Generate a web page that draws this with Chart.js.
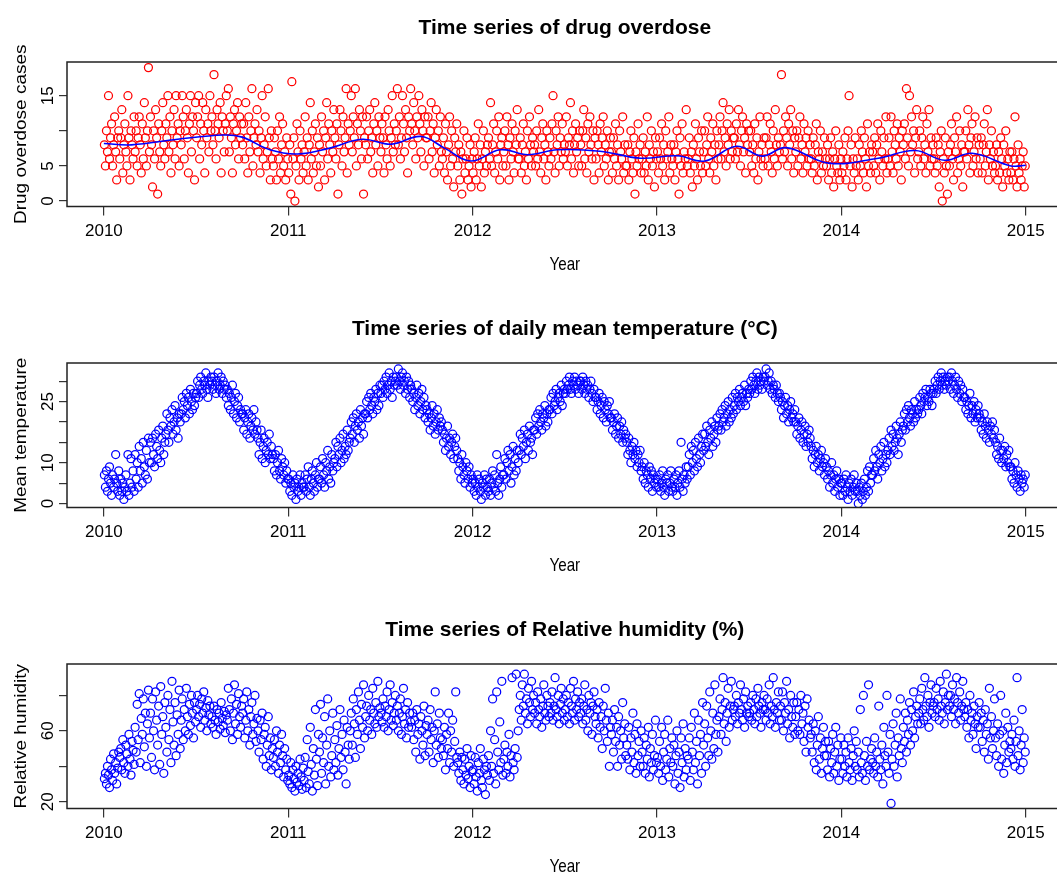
<!DOCTYPE html>
<html>
<head>
<meta charset="utf-8">
<script src="https://cdn.jsdelivr.net/npm/chart.js@4.4.1/dist/chart.umd.min.js"></script>
<style>
  html, body { margin: 0; padding: 0; background: #fff; }
  body { width: 1057px; height: 875px; overflow: hidden; position: relative; }
  canvas { position: absolute; left: 0; }
</style>
</head>
<body>
<canvas id="overdose" width="1057" height="301" style="top:0px"></canvas>
<canvas id="temperature" width="1057" height="301" style="top:301px"></canvas>
<canvas id="humidity" width="1057" height="301" style="top:602px"></canvas>
<script>
'use strict';

// one value every ~2 days
var years = [2010, 2011, 2012, 2013, 2014];
var yearTicks = [2010, 2011, 2012, 2013, 2014, 2015];

var overdose2010 = [8,5,10,7,15,6,9,11,5,8,12,7,3,9,10, 6,9,13,4,8,11,7,5,15,9,3,10,8,6,12,
  7,10,5,9,12,8,4,11,6,14,9,5,10,19,7, 12,8,2,10,6,13,9,1,11,7,5,10,14,8,6,
  11,9,15,7,12,4,10,8,13,6,15,9,11,5,10, 8,15,12,6,10,13,9,4,11,15,7,12,10,3,14,
  9,12,15,6,11,8,14,10,4,13,9,11,7,15,10, 12,8,18,10,6,13,11,9,14,4,12,10,7,11,15,
  10,16,7,12,9,4,11,13,8,10,14,6,12,9,11, 8,11,6,14,9,4,12,7,10,16,5,9,11,8,13,
  7,10,4,9,15,6,8,12,5,7,16,9,3,10,6, 5,9,7,3,10,6,12,4,8,11,5,7,3,9,6];
var overdose2011 = [4,8,1,17,6,9,0,5,11,7,3,10,6,8,4, 7,12,5,9,3,8,14,6,10,4,7,11,5,9,2,
  8,5,12,7,10,3,9,14,6,11,8,4,10,7,13, 9,6,11,1,8,13,10,5,12,7,9,16,4,11,8,
  10,15,7,12,9,16,5,11,8,13,10,6,12,1,9, 8,12,6,10,13,7,9,4,11,14,8,10,5,12,9,
  7,11,9,4,12,8,6,13,10,5,9,15,7,11,8, 10,16,8,12,6,9,15,11,7,13,9,4,12,10,16,
  11,8,14,10,6,12,9,15,11,7,13,10,5,12,9, 9,12,6,10,14,7,11,4,9,13,8,10,5,12,7,
  6,9,4,11,7,3,8,12,5,10,6,2,9,7,11, 5,8,3,7,1,6,10,4,6,9,3,5,8,2,6];
var overdose2012 = [4,7,9,3,6,11,5,8,2,6,10,4,7,5,8, 9,6,14,5,8,11,4,7,10,6,12,3,8,9,5,
  7,10,5,12,8,3,9,6,11,7,4,10,8,13,6, 6,9,4,8,11,5,7,3,10,6,12,8,5,9,7,
  8,5,10,6,13,7,4,9,11,6,8,3,10,7,5, 9,6,11,15,7,4,10,8,12,5,9,7,11,6,8,
  7,12,5,9,8,14,6,10,4,8,11,7,9,5,10, 8,5,10,13,6,9,4,11,7,12,8,6,10,3,9,
  6,10,8,4,11,7,9,12,5,8,6,10,3,7,9, 7,4,9,6,11,5,8,3,10,7,6,12,4,8,5,
  5,8,3,7,10,6,4,9,1,7,5,11,6,8,4, 6,9,4,7,5,12,3,8,6,10,5,7,2,9,6];
var overdose2013 = [7,4,9,6,11,5,8,3,10,6,7,12,4,8,6, 5,8,3,7,10,6,1,9,5,11,4,7,6,13,5,
  6,9,4,7,2,8,5,11,6,3,9,7,5,10,4, 7,10,5,8,12,6,4,9,7,11,5,8,3,10,6,
  8,12,6,10,14,7,9,5,11,8,13,6,10,7,9, 9,6,11,7,13,8,5,10,12,7,9,4,11,8,10,
  7,10,5,8,4,11,6,9,3,7,12,6,8,5,9, 6,9,12,5,8,11,7,4,10,6,13,8,5,9,7,
  8,18,6,10,7,12,9,5,11,8,13,6,10,4,9, 7,10,5,9,12,6,8,4,11,7,9,5,10,6,8,
  6,4,9,5,8,11,3,7,6,10,4,7,5,9,6, 5,8,3,6,9,4,7,2,6,10,5,4,8,3,6];
var overdose2014 = [4,7,5,9,3,6,10,15,5,8,2,6,4,9,5, 6,3,8,5,10,7,4,9,6,2,11,5,7,4,8,
  7,5,9,4,8,11,6,3,10,7,5,9,6,12,4, 6,9,5,12,7,4,10,8,6,11,5,9,7,3,10,
  8,11,6,16,9,5,15,7,12,8,10,4,9,13,6, 7,10,5,9,12,6,8,4,11,7,13,5,9,6,8,
  6,4,9,5,8,2,7,10,0,6,4,9,5,1,7, 5,8,11,6,3,9,7,12,4,6,10,5,8,2,7,
  7,10,6,13,8,4,9,11,5,7,12,6,9,4,8, 6,9,4,8,11,5,7,13,3,8,6,10,5,7,4,
  5,8,3,7,4,9,6,2,8,5,10,4,6,3,7, 4,7,3,6,12,5,2,8,4,6,3,5,7,2,5];

// blue smoother over the case counts
var smoothYears = [2010.00, 2010.15, 2010.40, 2010.65, 2010.75, 2010.90, 2011.05, 2011.22, 2011.40, 2011.56,
  2011.72, 2011.85, 2011.99, 2012.15, 2012.30, 2012.46, 2012.69, 2012.91, 2013.11, 2013.26,
  2013.43, 2013.57, 2013.70, 2013.93, 2014.20, 2014.40, 2014.56, 2014.71, 2014.92, 2015.00];
var smoothCases = [8.2, 8.0, 8.8, 9.4, 9.1, 7.3, 6.7, 7.5, 8.8, 8.1,
  9.2, 7.5, 5.7, 7.3, 6.6, 7.3, 7.1, 6.1, 6.45, 5.7,
  7.8, 6.4, 7.6, 5.4, 6.1, 7.2, 5.8, 6.8, 5.0, 5.1];

var temp2010 = [7,4,8,3,6,9,5,2,7,4,6,12,5,3,8, 2,6,3,5,1,4,7,3,12,2,5,11,4,8,3,
  12,6,10,4,14,8,11,5,15,9,7,13,6,16,10, 15,10,16,12,9,17,14,11,18,13,10,16,19,12,15,
  17,22,18,15,21,19,23,17,20,24,18,21,16,22,20, 22,26,23,25,21,27,24,26,22,28,25,23,27,24,26,
  27,30,26,29,31,28,27,30,29,32,28,26,30,29,31, 30,28,31,29,27,30,32,28,29,31,27,30,28,29,26,
  28,24,27,23,26,29,22,25,27,21,24,26,20,23,22, 22,18,21,23,17,20,22,16,19,21,18,23,17,20,18,
  16,12,15,18,11,14,16,10,13,15,12,17,11,14,12, 11,8,12,7,10,13,8,6,11,9,7,10,5,8,6];
var temp2011 = [6,3,5,2,7,4,5,1,6,3,4,7,2,5,4, 4,7,3,6,9,4,2,6,8,5,3,7,10,4,6,
  6,9,5,11,7,4,10,8,13,6,9,5,12,8,10, 11,15,9,14,12,16,10,13,17,11,14,12,18,13,15,
  16,20,17,21,15,19,22,18,20,16,23,19,21,17,22, 22,25,21,26,23,27,24,22,26,25,28,23,27,24,29,
  27,29,26,30,28,31,27,29,32,28,30,26,31,29,30, 31,29,33,30,28,31,32,29,30,27,31,28,30,26,29,
  28,25,27,23,26,29,24,27,22,25,28,23,26,21,24, 23,20,22,18,21,24,19,22,17,20,23,18,21,19,20,
  18,15,17,13,16,19,14,16,12,15,17,11,14,16,13, 11,8,10,6,12,9,7,5,10,8,6,9,4,7,5];
var temp2012 = [6,3,5,2,7,4,6,3,1,5,4,7,2,6,4, 3,6,2,5,8,4,7,3,12,5,2,6,9,4,7,
  7,11,6,10,13,8,12,5,9,14,7,11,8,13,10, 13,17,12,16,14,18,11,15,17,13,19,15,16,12,18,
  18,21,17,22,19,23,20,18,22,21,24,19,22,20,23, 23,26,22,27,24,25,28,23,26,27,25,29,24,27,28,
  27,30,28,29,31,28,27,30,29,31,28,30,29,27,30, 30,28,31,29,27,30,28,29,26,28,30,27,25,28,26,
  26,23,25,27,22,24,26,21,25,23,20,24,22,25,21, 21,18,20,22,17,19,21,16,19,17,20,15,18,16,17,
  15,12,16,13,10,14,12,15,11,13,9,12,10,13,8, 9,6,10,5,8,7,4,9,6,8,3,7,5,6,4];
var temp2013 = [6,4,7,3,5,8,4,2,6,5,7,3,5,8,4, 3,6,4,7,2,5,8,4,15,6,3,7,5,9,6,
  9,12,7,14,10,13,8,15,11,9,16,12,10,14,17, 13,17,14,19,15,12,18,16,20,14,17,19,15,21,18,
  19,22,18,23,20,21,24,19,22,25,20,23,21,26,22, 24,27,23,26,25,28,24,26,27,25,29,24,27,26,28,
  27,30,28,31,29,27,30,32,28,31,29,30,28,31,30, 31,33,29,30,32,28,30,27,29,28,26,29,27,25,27,
  26,23,25,21,24,26,22,24,20,23,25,21,22,20,23, 20,17,19,21,16,18,20,15,17,19,14,17,15,18,16,
  14,11,13,9,12,14,10,12,8,11,13,9,10,7,11, 9,6,8,4,7,10,5,7,3,6,8,4,6,2,5];
var temp2014 = [5,2,6,3,7,4,1,5,3,6,2,4,7,3,5, 3,0,4,2,5,1,3,6,2,4,8,3,9,5,7,
  7,11,8,13,9,6,12,10,14,8,11,15,9,12,10, 13,16,12,18,14,17,13,15,19,16,12,17,20,15,18,
  19,22,18,23,20,24,21,19,23,22,20,25,21,23,22, 23,26,24,22,27,25,26,28,24,26,25,28,27,24,27,
  28,30,27,29,31,28,30,32,29,31,28,30,29,31,30, 31,28,32,30,27,29,31,28,26,30,27,29,25,28,26,
  26,23,25,22,24,27,21,24,22,25,20,23,21,24,22, 21,18,20,17,22,19,16,20,18,15,19,17,20,16,18,
  15,12,14,11,16,13,10,13,11,14,9,12,10,13,9, 9,6,8,5,10,7,4,8,6,3,7,5,6,4,7];

var humid2010 = [33,36,30,40,35,28,44,38,32,47,36,42,30,39,48, 45,50,38,55,42,36,52,47,40,58,44,35,54,49,41,
  62,48,75,55,81,42,67,58,78,51,70,40,64,83,56, 70,45,78,60,38,82,66,52,74,41,85,58,68,36,76,
  62,48,80,55,72,42,88,65,52,76,46,69,58,83,50, 66,78,55,72,60,84,68,58,75,63,80,70,56,76,65,
  72,80,68,75,62,78,70,82,66,73,60,77,69,74,64, 68,62,74,66,58,72,65,70,61,76,67,63,71,59,69,
  66,84,72,60,78,55,70,86,64,75,58,81,68,62,74, 70,78,56,66,82,60,72,52,68,76,58,64,80,54,67,
  60,48,66,55,70,44,58,62,40,52,68,46,56,38,50, 45,55,40,60,48,36,52,42,58,46,34,50,38,44,32];
var humid2011 = [35,30,42,28,38,33,26,40,31,36,29,44,34,27,39, 32,45,28,55,37,30,62,41,26,50,35,72,44,29,58,
  48,75,36,56,42,68,30,52,78,40,60,34,46,70,38, 55,42,63,35,50,72,45,58,38,66,48,30,62,52,44,
  60,70,52,78,64,45,72,58,82,66,50,75,62,86,56, 68,74,60,80,66,72,58,84,70,64,76,62,88,68,73,
  70,65,78,62,74,68,82,60,72,86,66,76,63,70,80, 66,74,60,70,78,58,68,84,64,72,56,76,62,70,65,
  62,70,55,66,48,72,58,64,44,68,60,52,74,46,63, 58,66,48,72,55,62,42,60,82,52,64,45,70,56,50,
  55,46,62,38,58,50,70,42,60,48,66,40,54,82,45, 42,36,48,32,45,38,30,44,35,50,33,40,28,46,37];
var humid2012 = [38,30,45,34,26,42,36,50,32,28,44,38,24,40,35, 46,32,60,40,78,36,55,30,82,48,38,65,42,88,35,
  44,52,36,48,40,58,34,46,90,42,38,50,92,45,60, 72,80,66,86,74,92,70,78,64,84,76,68,88,72,80,
  70,76,64,82,72,68,78,62,74,86,70,66,80,74,68, 76,70,82,66,74,90,72,68,80,64,75,84,70,78,66,
  72,80,68,76,64,84,74,70,88,66,78,72,82,68,76, 70,78,64,74,86,66,72,60,80,70,76,58,74,82,68,
  64,72,56,76,62,68,50,74,60,84,66,54,70,40,62, 58,66,48,72,54,62,40,68,52,60,44,76,56,64,46,
  52,44,62,38,56,48,70,42,58,36,64,46,54,40,60, 48,40,56,36,52,44,62,34,50,42,58,38,46,66,42];
var humid2013 = [45,36,54,40,62,32,48,58,38,44,66,34,50,42,56, 40,52,30,46,60,36,48,28,56,42,64,34,50,38,46,
  44,56,32,62,48,38,70,42,54,30,66,46,58,36,76, 52,64,40,74,56,46,82,60,44,70,50,86,58,66,48,
  68,78,58,72,90,64,76,54,70,84,62,74,88,66,72, 74,68,80,64,76,70,86,72,66,78,62,82,70,74,68,
  70,76,66,80,72,64,78,68,84,74,70,62,76,72,80, 72,66,78,70,86,64,74,68,90,72,62,76,70,82,66,
  74,66,82,60,76,70,88,64,72,56,80,68,62,76,58, 68,76,60,72,58,80,64,70,54,74,48,78,62,66,56,
  58,48,64,42,60,38,52,68,44,56,36,50,62,46,54, 46,38,54,34,50,42,58,36,48,62,40,52,32,44,56];
var humid2014 = [44,36,52,40,48,34,56,42,38,50,32,46,60,40,54, 38,48,34,72,42,36,80,46,32,54,40,86,38,44,50,
  42,36,56,40,48,34,74,44,38,52,30,62,46,40,80, 48,36,58,19,44,64,40,52,70,34,56,46,78,50,42,
  62,54,70,48,66,58,76,52,72,60,82,56,68,74,64, 70,78,64,84,72,66,90,74,68,80,62,76,86,70,74,
  76,68,84,72,78,66,88,74,70,82,64,76,92,72,80, 74,80,68,86,72,78,64,90,76,70,82,66,74,88,72,
  68,76,62,72,56,80,66,70,58,74,64,50,68,62,76, 62,70,54,66,48,72,58,64,44,84,56,68,50,60,78,
  56,46,64,40,58,80,44,60,36,52,70,42,62,48,54, 50,58,44,66,40,54,90,46,60,38,52,72,42,56,48];

var xMin = 2009.8, xEnd = 2015.2, xVisible = 2015.141;
var font = '"Liberation Sans", Arial, sans-serif';

let Panels = function(){

    var _points = function(perYear){
        var pts = [];
        perYear.forEach(function(vals, i){
            vals.forEach(function(v, k){
                pts.push({x: years[i] + (k + 0.5) / vals.length, y: v});
            });
        });
        return pts;
    };

    // box, title and axis titles drawn the way base R plots them
    var _frame = {
        id: 'frame',
        afterDraw: function(chart, args, opts){
            var ctx = chart.ctx, xs = chart.scales.x, a = chart.chartArea;
            var left = xs.getPixelForValue(xMin), right = xs.getPixelForValue(xEnd);
            var mid = (left + right) / 2;
            ctx.save();
            ctx.strokeStyle = '#222';
            ctx.lineWidth = 1.5;
            ctx.strokeRect(left, a.top, right - left, a.bottom - a.top);
            ctx.fillStyle = '#000';
            ctx.textAlign = 'center';
            ctx.textBaseline = 'alphabetic';
            ctx.font = 'bold 21px ' + font;
            ctx.fillText(opts.title, mid, 34);
            ctx.textBaseline = 'middle';
            ctx.font = '19px ' + font;
            ctx.save();
            ctx.translate(mid, 265);
            ctx.scale(0.8, 1);
            ctx.fillText('Year', 0, 0);
            ctx.restore();
            ctx.save();
            ctx.translate(22, (a.top + a.bottom) / 2);
            ctx.rotate(-Math.PI / 2);
            ctx.scale(1, 0.85);
            ctx.fillText(opts.yTitle, 0, 0);
            ctx.restore();
            ctx.restore();
        }
    };

    var _make = function(id, datasets, title, yTitle, yMin, yMax, yTicks, yLabels){
        var ctx = document.getElementById(id).getContext('2d');
        var config = {
            type : 'scatter',
            data : { datasets : datasets },
            options : {
                responsive : false,
                animation : false,
                devicePixelRatio : 1,
                layout : { padding : { top : 62, left : 0, right : 0, bottom : 0 } },
                plugins : {
                    legend : { display : false },
                    tooltip : { enabled : false },
                    frame : { title : title, yTitle : yTitle }
                },
                scales : {
                    x : {
                        type : 'linear',
                        min : xMin,
                        max : xVisible,
                        afterBuildTicks : function(s){ s.ticks = yearTicks.map(function(v){ return {value : v}; }); },
                        afterFit : function(s){ s.height = 94.5; },
                        ticks : {
                            autoSkip : false, maxRotation : 0, padding : 6, color : '#000',
                            font : { family : font, size : 17 },
                            callback : function(v){ return String(v); }
                        },
                        grid : { drawOnChartArea : false, tickLength : 9, color : '#333', lineWidth : 1.2 },
                        border : { display : false }
                    },
                    y : {
                        type : 'linear',
                        min : yMin,
                        max : yMax,
                        afterBuildTicks : function(s){ s.ticks = yTicks.map(function(v){ return {value : v}; }); },
                        afterFit : function(s){ s.width = 67; },
                        ticks : {
                            autoSkip : false, minRotation : 90, maxRotation : 90, crossAlign : 'center',
                            padding : 1.5, color : '#000',
                            font : { family : font, size : 17 },
                            callback : function(v){ return yLabels.indexOf(v) >= 0 ? String(v) : ''; }
                        },
                        grid : { drawOnChartArea : false, tickLength : 8, color : '#333', lineWidth : 1.2 },
                        border : { display : false }
                    }
                }
            },
            plugins : [_frame]
        };
        return new Chart(ctx, config);
    };

    var _scatter = function(values, color){
        return {
            type : 'scatter',
            data : _points(values),
            pointStyle : 'circle',
            pointRadius : 4,
            pointBorderWidth : 1.25,
            borderColor : color,
            backgroundColor : 'rgba(0,0,0,0)'
        };
    };

    return {
        init : function(){
            var smooth = smoothYears.map(function(x, i){ return {x : x, y : smoothCases[i]}; });
            _make('overdose', [
                { type : 'line', data : smooth, borderColor : '#0000ff', borderWidth : 1.6,
                  pointRadius : 0, tension : 0.4, fill : false },
                _scatter([overdose2010, overdose2011, overdose2012, overdose2013, overdose2014], '#ff0000')
            ], 'Time series of drug overdose', 'Drug overdose cases', -0.78, 19.8, [0, 5, 10, 15], [0, 5, 15]);

            _make('temperature', [
                _scatter([temp2010, temp2011, temp2012, temp2013, temp2014], '#0000ff')
            ], 'Time series of daily mean temperature (\u00B0C)', 'Mean temperature', -0.98, 34.45,
               [0, 5, 10, 15, 20, 25, 30], [0, 10, 25]);

            _make('humidity', [
                _scatter([humid2010, humid2011, humid2012, humid2013, humid2014], '#0000ff')
            ], 'Time series of Relative humidity (%)', 'Relative humidity', 16.15, 97.74,
               [20, 40, 60, 80], [20, 60]);
        }
    };
}();

document.addEventListener('DOMContentLoaded', function(){
    Panels.init();
});
</script>
</body>
</html>
